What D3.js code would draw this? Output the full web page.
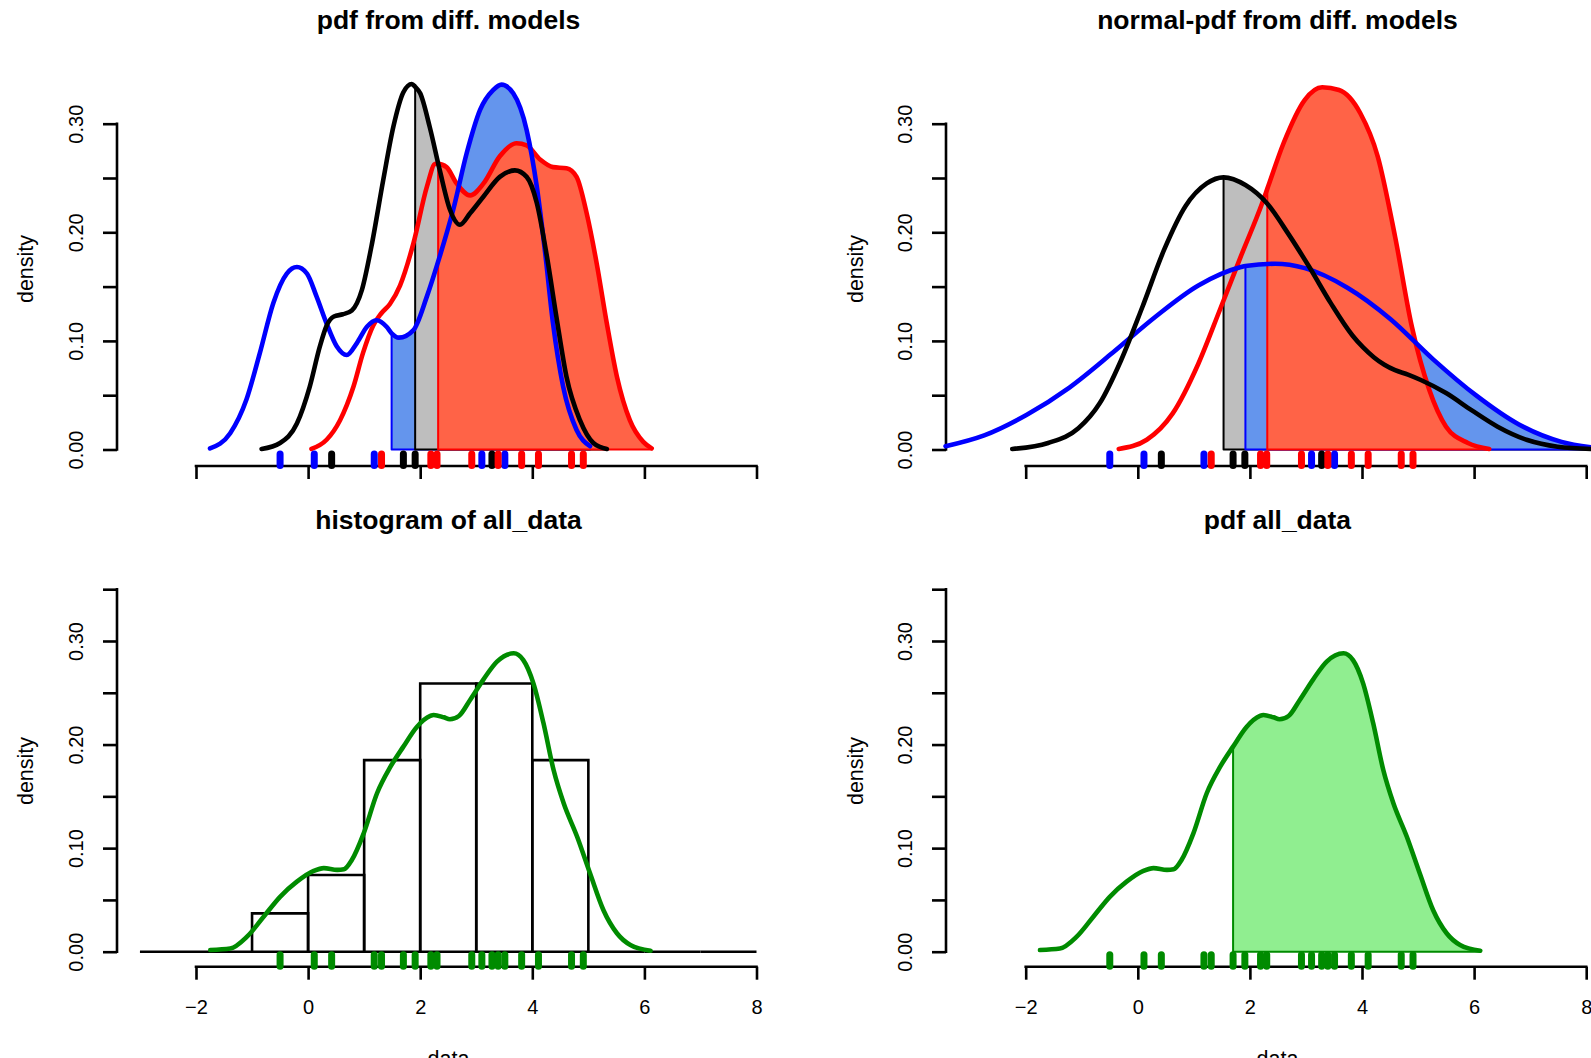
<!DOCTYPE html>
<html><head><meta charset="utf-8">
<script src="https://cdn.jsdelivr.net/npm/d3@7"></script>
<style>
body{margin:0;background:#fff;}
svg{display:block;font-family:"Liberation Sans",Arial,Helvetica,sans-serif;}
</style></head><body>
<svg id="chart" width="1591" height="1058"></svg>
<script>
// ---------------- data ----------------
const titles = ["pdf from diff. models", "normal-pdf from diff. models", "histogram of all_data", "pdf all_data"];
const xTicks = [-2, 0, 2, 4, 6, 8];
const yTicksTop = [0, 0.05, 0.10, 0.15, 0.20, 0.25, 0.30];
const yTicksBottom = [0, 0.05, 0.10, 0.15, 0.20, 0.25, 0.30, 0.35];

const rugBlue  = [-0.50, 0.11, 1.18, 3.10, 3.51];
const rugBlack = [0.42, 1.70, 1.91, 3.28];
const rugRed   = [1.31, 2.19, 2.30, 2.92, 3.39, 3.81, 4.11, 4.70, 4.91];
const rugAll   = [-0.50, 0.11, 0.42, 1.18, 1.31, 1.70, 1.91, 2.19, 2.30, 2.92, 3.10, 3.28, 3.39, 3.51, 3.81, 4.11, 4.70, 4.91];

// kernel density curves, top-left panel  [x, density]
const kdeBlue = [[-1.75,0.001],[-1.39,0.015],[-1.10,0.046],[-0.86,0.089],[-0.62,0.135],[-0.38,0.162],[-0.20,0.168],[-0.02,0.162],[0.15,0.141],[0.33,0.116],[0.51,0.095],[0.69,0.087],[0.87,0.098],[1.05,0.113],[1.22,0.119],[1.40,0.113],[1.49,0.107],[1.62,0.103],[1.88,0.110],[2.12,0.141],[2.35,0.178],[2.59,0.221],[2.83,0.273],[3.07,0.313],[3.30,0.331],[3.45,0.336],[3.66,0.328],[3.90,0.294],[4.08,0.242],[4.23,0.181],[4.37,0.116],[4.55,0.058],[4.79,0.018],[5.03,0.003]];
const kdeBlack = [[-0.83,0.0005],[-0.50,0.006],[-0.20,0.024],[0.03,0.058],[0.21,0.095],[0.33,0.114],[0.46,0.1225],[0.62,0.1245],[0.78,0.128],[0.96,0.147],[1.13,0.187],[1.34,0.248],[1.52,0.297],[1.70,0.329],[1.85,0.3366],[1.91,0.334],[2.00,0.328],[2.17,0.297],[2.35,0.257],[2.53,0.221],[2.71,0.207],[2.89,0.2175],[3.13,0.233],[3.42,0.251],[3.69,0.257],[3.90,0.251],[4.08,0.227],[4.26,0.178],[4.44,0.119],[4.61,0.067],[4.85,0.027],[5.09,0.006],[5.33,0.0005]];
const kdeRed = [[0.06,0.0005],[0.33,0.009],[0.57,0.027],[0.81,0.058],[0.98,0.089],[1.16,0.114],[1.30,0.125],[1.46,0.134],[1.64,0.151],[1.88,0.190],[2.12,0.242],[2.27,0.263],[2.32,0.263],[2.47,0.260],[2.65,0.245],[2.89,0.234],[3.13,0.245],[3.42,0.270],[3.72,0.282],[3.90,0.280],[4.14,0.267],[4.37,0.260],[4.61,0.259],[4.79,0.251],[4.97,0.2175],[5.15,0.171],[5.33,0.116],[5.51,0.067],[5.74,0.027],[5.98,0.007],[6.13,0.001]];

// normal-type curves, top-right panel
const normBlue = [[-3.43,0.003],[-2.74,0.013],[-1.98,0.032],[-1.22,0.057],[-0.45,0.089],[0.31,0.122],[1.08,0.151],[1.84,0.168],[1.92,0.169],[2.45,0.171],[2.98,0.167],[3.74,0.149],[4.51,0.120],[5.27,0.083],[6.03,0.050],[6.80,0.023],[7.56,0.007],[8.10,0.002]];
const normBlack = [[-2.24,0.0005],[-1.60,0.006],[-1.06,0.0195],[-0.68,0.0425],[-0.30,0.082],[0.08,0.131],[0.47,0.184],[0.85,0.224],[1.23,0.245],[1.53,0.2506],[1.92,0.2435],[2.30,0.227],[2.68,0.199],[3.06,0.168],[3.44,0.135],[3.83,0.105],[4.02,0.094],[4.21,0.085],[4.40,0.078],[4.59,0.073],[4.82,0.069],[5.05,0.064],[5.50,0.052],[5.96,0.036],[6.42,0.021],[6.95,0.0087],[7.49,0.0026],[8.10,0.0005]];
const normRed = [[-0.34,0.0005],[0.16,0.009],[0.62,0.033],[1.08,0.079],[1.46,0.128],[1.84,0.178],[2.22,0.227],[2.31,0.240],[2.60,0.282],[2.98,0.322],[3.29,0.3335],[3.59,0.331],[3.97,0.3096],[4.28,0.270],[4.59,0.196],[4.89,0.113],[5.20,0.055],[5.50,0.021],[5.89,0.006],[6.27,0.0005]];

// density of all data, bottom panels
const kdeAll = [[-1.745,0.0016],[-1.39,0.003],[-1.09,0.0145],[-0.79,0.034],[-0.50,0.053],[-0.20,0.0676],[0.10,0.078],[0.28,0.0807],[0.52,0.079],[0.64,0.0796],[0.78,0.0885],[0.99,0.114],[1.23,0.153],[1.47,0.1786],[1.70,0.198],[1.94,0.217],[2.18,0.2276],[2.24,0.2286],[2.42,0.2263],[2.53,0.2244],[2.69,0.2276],[2.89,0.2431],[3.13,0.2630],[3.37,0.2801],[3.67,0.2881],[3.84,0.2816],[4.02,0.2591],[4.20,0.2205],[4.38,0.1754],[4.56,0.1433],[4.80,0.111],[5.03,0.0757],[5.27,0.040],[5.51,0.0178],[5.75,0.0065],[6.11,0.001]];

// histogram of all data
const histBreaks  = [-3, -2, -1, 0, 1, 2, 3, 4, 5, 6, 7, 8];
const histDensity = [0, 0, 0.037, 0.074, 0.185, 0.259, 0.259, 0.185, 0, 0, 0];

// left edges of the shaded areas
const shadeTopLeft  = {blue: 1.49, black: 1.91, red: 2.32};
const shadeTopRight = {black: 1.53, blue: 1.92, red: 2.31};
const shadeAll = 1.70;

// ---------------- layout / styles ----------------
const svg = d3.select('#chart');
const COL = [{x0: 196, x1: 756.5, yAx: 117, cx: 448.5, labX: 25.5},
             {x0: 1025.7, x1: 1586.2, yAx: 946, cx: 1277.5, labX: 855.5}];
const ROW = [{yZero: 449.5, yTop: 123.7, ticks: yTicksTop, xAx: 466, titleY: 29, labY: 269},
             {yZero: 951.7, yTop: 951.7 - 0.35 * 1035.7, ticks: yTicksBottom, xAx: 966.7, titleY: 529, labY: 771}];
const C = {blue: '#0000FF', black: '#000000', red: '#FF0000', green: '#008B00',
           fillBlue: '#6495ED', fillGrey: '#BEBEBE', fillRed: '#FF6347', fillGreen: '#90EE90'};

function makeScales(c, r) {
  const x = d3.scaleLinear().domain([-2, 8]).range([COL[c].x0, COL[c].x1]);
  const y = d3.scaleLinear().domain([0, r === 0 ? 0.30 : 0.35]).range([ROW[r].yZero, ROW[r].yTop]);
  return {x, y};
}

function drawAxes(c, r, s, withLabels) {
  const col = COL[c], row = ROW[r];
  const ya = d3.axisLeft(s.y).tickValues(row.ticks).tickSize(14).tickSizeOuter(0)
    .tickFormat(d => (Math.round(d * 100) % 10 === 0 ? d3.format('.2f')(d) : ''));
  const gy = svg.append('g').attr('transform', `translate(${col.yAx},0)`).call(ya)
    .attr('font-size', null).attr('font-family', null);
  gy.select('.domain').remove();
  gy.append('line').attr('x1', 0).attr('x2', 0)
    .attr('y1', s.y(row.ticks[0])).attr('y2', s.y(row.ticks[row.ticks.length - 1]))
    .attr('stroke', '#000').attr('stroke-width', 2.6).attr('stroke-linecap', 'square');
  gy.selectAll('.tick line').attr('stroke', '#000').attr('stroke-width', 2.6);
  gy.selectAll('.tick text').attr('x', null).attr('dy', null)
    .attr('transform', 'translate(-41,0) rotate(-90)')
    .attr('text-anchor', 'middle').attr('dominant-baseline', 'central')
    .style('font-size', '20px').attr('fill', '#000');
  const xa = d3.axisBottom(s.x).tickValues(xTicks).tickSize(13).tickSizeOuter(0)
    .tickFormat(withLabels ? d3.format('d') : () => '');
  const gx = svg.append('g').attr('transform', `translate(0,${row.xAx})`).call(xa)
    .attr('font-size', null).attr('font-family', null);
  gx.select('.domain').remove();
  gx.append('line').attr('y1', 0).attr('y2', 0)
    .attr('x1', s.x(xTicks[0])).attr('x2', s.x(xTicks[xTicks.length - 1]))
    .attr('stroke', '#000').attr('stroke-width', 2.6).attr('stroke-linecap', 'square');
  gx.selectAll('.tick line').attr('stroke', '#000').attr('stroke-width', 2.6);
  gx.selectAll('.tick text').attr('y', 40).attr('dy', '0.35em')
    .style('font-size', '20px').attr('fill', '#000');
  svg.append('text').attr('transform', `translate(${col.labX},${row.labY}) rotate(-90)`)
    .attr('text-anchor', 'middle').attr('dominant-baseline', 'central')
    .style('font-size', '21.5px').text('density');
  if (withLabels) {
    svg.append('text').attr('x', col.cx).attr('y', 1066).attr('text-anchor', 'middle')
      .style('font-size', '21.5px').text('data');
  }
}

function title(c, r, t) {
  svg.append('text').attr('x', COL[c].cx).attr('y', ROW[r].titleY).attr('text-anchor', 'middle')
    .style('font-size', '26.5px').style('font-weight', 'bold').text(t);
}

function lineGen(s) {
  return d3.line().x(d => s.x(d[0])).y(d => s.y(d[1])).curve(d3.curveMonotoneX);
}
function areaGen(s) {
  return d3.area().x(d => s.x(d[0])).y0(s.y(0)).y1(d => s.y(d[1])).curve(d3.curveMonotoneX);
}
function shade(s, data, from, fill, stroke) {
  const pts = data.filter(d => d[0] >= from - 1e-9);
  svg.append('path').attr('d', areaGen(s)(pts))
    .attr('fill', fill).attr('stroke', stroke).attr('stroke-width', 2).attr('stroke-linejoin', 'round');
}
function curve(s, data, color) {
  svg.append('path').attr('d', lineGen(s)(data))
    .attr('fill', 'none').attr('stroke', color).attr('stroke-width', 4.6)
    .attr('stroke-linecap', 'round').attr('stroke-linejoin', 'round');
}
function rug(s, r, vals, color) {
  const y0 = ROW[r].xAx;
  svg.append('g').selectAll('line').data(vals).join('line')
    .attr('x1', d => s.x(d)).attr('x2', d => s.x(d))
    .attr('y1', y0 - 0.5).attr('y2', y0 - 12)
    .attr('stroke', color).attr('stroke-width', 7).attr('stroke-linecap', 'round');
}

// ---------- panel 1: top-left ----------
{
  const s = makeScales(0, 0);
  title(0, 0, titles[0]);
  drawAxes(0, 0, s, false);
  shade(s, kdeBlue, shadeTopLeft.blue, C.fillBlue, C.blue);
  shade(s, kdeBlack, shadeTopLeft.black, C.fillGrey, C.black);
  shade(s, kdeRed, shadeTopLeft.red, C.fillRed, C.red);
  curve(s, kdeRed, C.red);
  curve(s, kdeBlue, C.blue);
  curve(s, kdeBlack, C.black);
  rug(s, 0, rugBlack, C.black);
  rug(s, 0, rugBlue, C.blue);
  rug(s, 0, rugRed, C.red);
}
// ---------- panel 2: top-right ----------
{
  const s = makeScales(1, 0);
  title(1, 0, titles[1]);
  drawAxes(1, 0, s, false);
  shade(s, normBlack, shadeTopRight.black, C.fillGrey, C.black);
  shade(s, normBlue, shadeTopRight.blue, C.fillBlue, C.blue);
  shade(s, normRed, shadeTopRight.red, C.fillRed, C.red);
  curve(s, normRed, C.red);
  curve(s, normBlue, C.blue);
  curve(s, normBlack, C.black);
  rug(s, 0, rugBlack, C.black);
  rug(s, 0, rugBlue, C.blue);
  rug(s, 0, rugRed, C.red);
}
// ---------- panel 3: bottom-left ----------
{
  const s = makeScales(0, 1);
  title(0, 1, titles[2]);
  drawAxes(0, 1, s, true);
  const bins = histDensity.map((d, i) => ({x0: histBreaks[i], x1: histBreaks[i + 1], d}));
  svg.append('g').selectAll('path').data(bins).join('path')
    .attr('d', b => `M${s.x(b.x0)},${s.y(0)}V${s.y(b.d)}H${s.x(b.x1)}V${s.y(0)}Z`)
    .attr('fill', 'none').attr('stroke', '#000').attr('stroke-width', 2.6);
  curve(s, kdeAll, C.green);
  rug(s, 1, rugAll, C.green);
}
// ---------- panel 4: bottom-right ----------
{
  const s = makeScales(1, 1);
  title(1, 1, titles[3]);
  drawAxes(1, 1, s, true);
  shade(s, kdeAll, shadeAll, C.fillGreen, C.green);
  curve(s, kdeAll, C.green);
  rug(s, 1, rugAll, C.green);
}
</script>
</body></html>
